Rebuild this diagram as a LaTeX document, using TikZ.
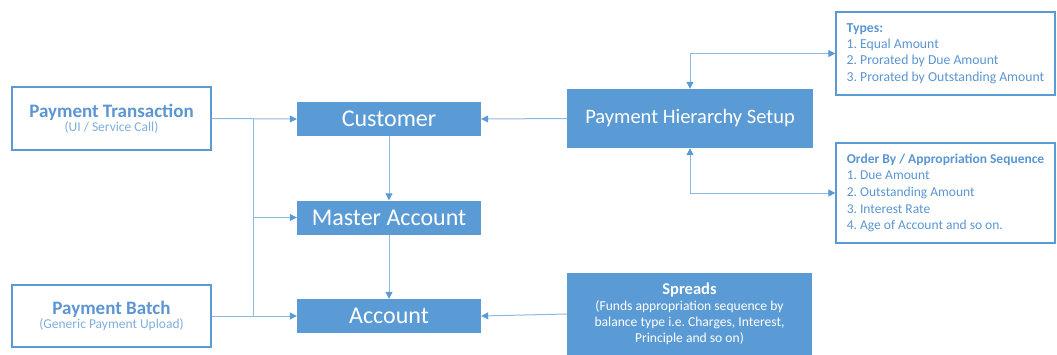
\documentclass[tikz,border=0pt]{standalone}
\usepackage{fontspec}
\setmainfont{Carlito}
\usetikzlibrary{arrows.meta}
\definecolor{bblue}{RGB}{91,155,213}
\definecolor{lblue}{RGB}{141,184,226}
\definecolor{tblue}{RGB}{91,150,210}
\frenchspacing
\begin{document}
\begin{tikzpicture}[x=1pt,y=-1pt,
  fillbox/.style={draw=none,fill=bblue,text=white,inner sep=0pt,align=center},
  outbox/.style={draw=bblue,line width=1.3pt,fill=white,inner sep=0pt,align=center,text=tblue},
  listbox/.style={draw=bblue,line width=1.3pt,fill=white,inner sep=0pt,align=left,text=tblue},
  conn/.style={draw=lblue,line width=1pt,-{Triangle[length=7pt,width=7pt,color=bblue]}},
  bus/.style={draw=lblue,line width=1pt},
  dconn/.style={draw=lblue,line width=1pt,{Triangle[length=7pt,width=7pt,color=bblue]}-{Triangle[length=7pt,width=7pt,color=bblue]}}
]
\useasboundingbox (0,0) rectangle (1057,354);
\node[fillbox,minimum width=184pt,minimum height=34pt,font=\fontsize{24}{26}\selectfont] (cust) at (389,119) {Customer};
\node[fillbox,minimum width=184pt,minimum height=34pt,font=\fontsize{24}{26}\selectfont] (mast) at (389,217.5) {Master Account};
\node[fillbox,minimum width=184pt,minimum height=34pt,font=\fontsize{24}{26}\selectfont] (acct) at (389,316) {Account};
\node[outbox,minimum width=199pt,minimum height=63pt] (pt) at (111.5,118.5)
  {{\fontsize{19}{21}\selectfont\bfseries Payment Transaction}\\[0pt]{\fontsize{13.5}{15}\selectfont\color{lblue!70!bblue}(UI / Service Call)}};
\node[outbox,minimum width=199pt,minimum height=62pt] (pb) at (111.5,316)
  {{\fontsize{19}{21}\selectfont\bfseries Payment Batch}\\[0pt]{\fontsize{13.5}{15}\selectfont\color{lblue!70!bblue}(Generic Payment Upload)}};
\node[fillbox,minimum width=246pt,minimum height=59pt,font=\fontsize{20.5}{22}\selectfont] (phs) at (690,118.5) {Payment Hierarchy Setup};
\node[fillbox,minimum width=245pt,minimum height=82pt,font=\fontsize{13.6}{16}\selectfont] (spr) at (689.5,314)
  {{\fontsize{16.5}{21}\selectfont\bfseries Spreads}\\(Funds appropriation sequence by\\balance type i.e. Charges, Interest,\\Principle and so on)};
\node[listbox,minimum width=219pt,minimum height=83pt,font=\fontsize{13.7}{16.2}\selectfont] (types) at (945.5,53.5)
  {\textbf{Types:}\\1. Equal Amount\\2. Prorated by Due Amount\\3. Prorated by Outstanding Amount};
\node[listbox,minimum width=219pt,minimum height=100pt,font=\fontsize{13.5}{16.6}\selectfont] (order) at (945.5,193)
  {\textbf{Order By / Appropriation Sequence}\\1. Due Amount\\2. Outstanding Amount\\3. Interest Rate\\4. Age of Account and so on.};
\coordinate (btop) at (253,119);
\coordinate (bmid) at (253,217.5);
\coordinate (bbot) at (253,316);
\draw[conn] (pt.east) -- (cust.west);
\draw[conn] (pb.east) -- (acct.west);
\draw[bus] (btop) -- (bbot);
\draw[conn] (bmid) -- (mast.west);
\draw[conn] (cust.south) -- (mast.north);
\draw[conn] (mast.south) -- (acct.north);
\draw[conn] (phs.west) -- (cust.east);
\draw[conn] (spr.west) -- (acct.east);
\draw[dconn] (types.west) -| (phs.north);
\draw[dconn] (order.west) -| (phs.south);
\end{tikzpicture}
\end{document}
